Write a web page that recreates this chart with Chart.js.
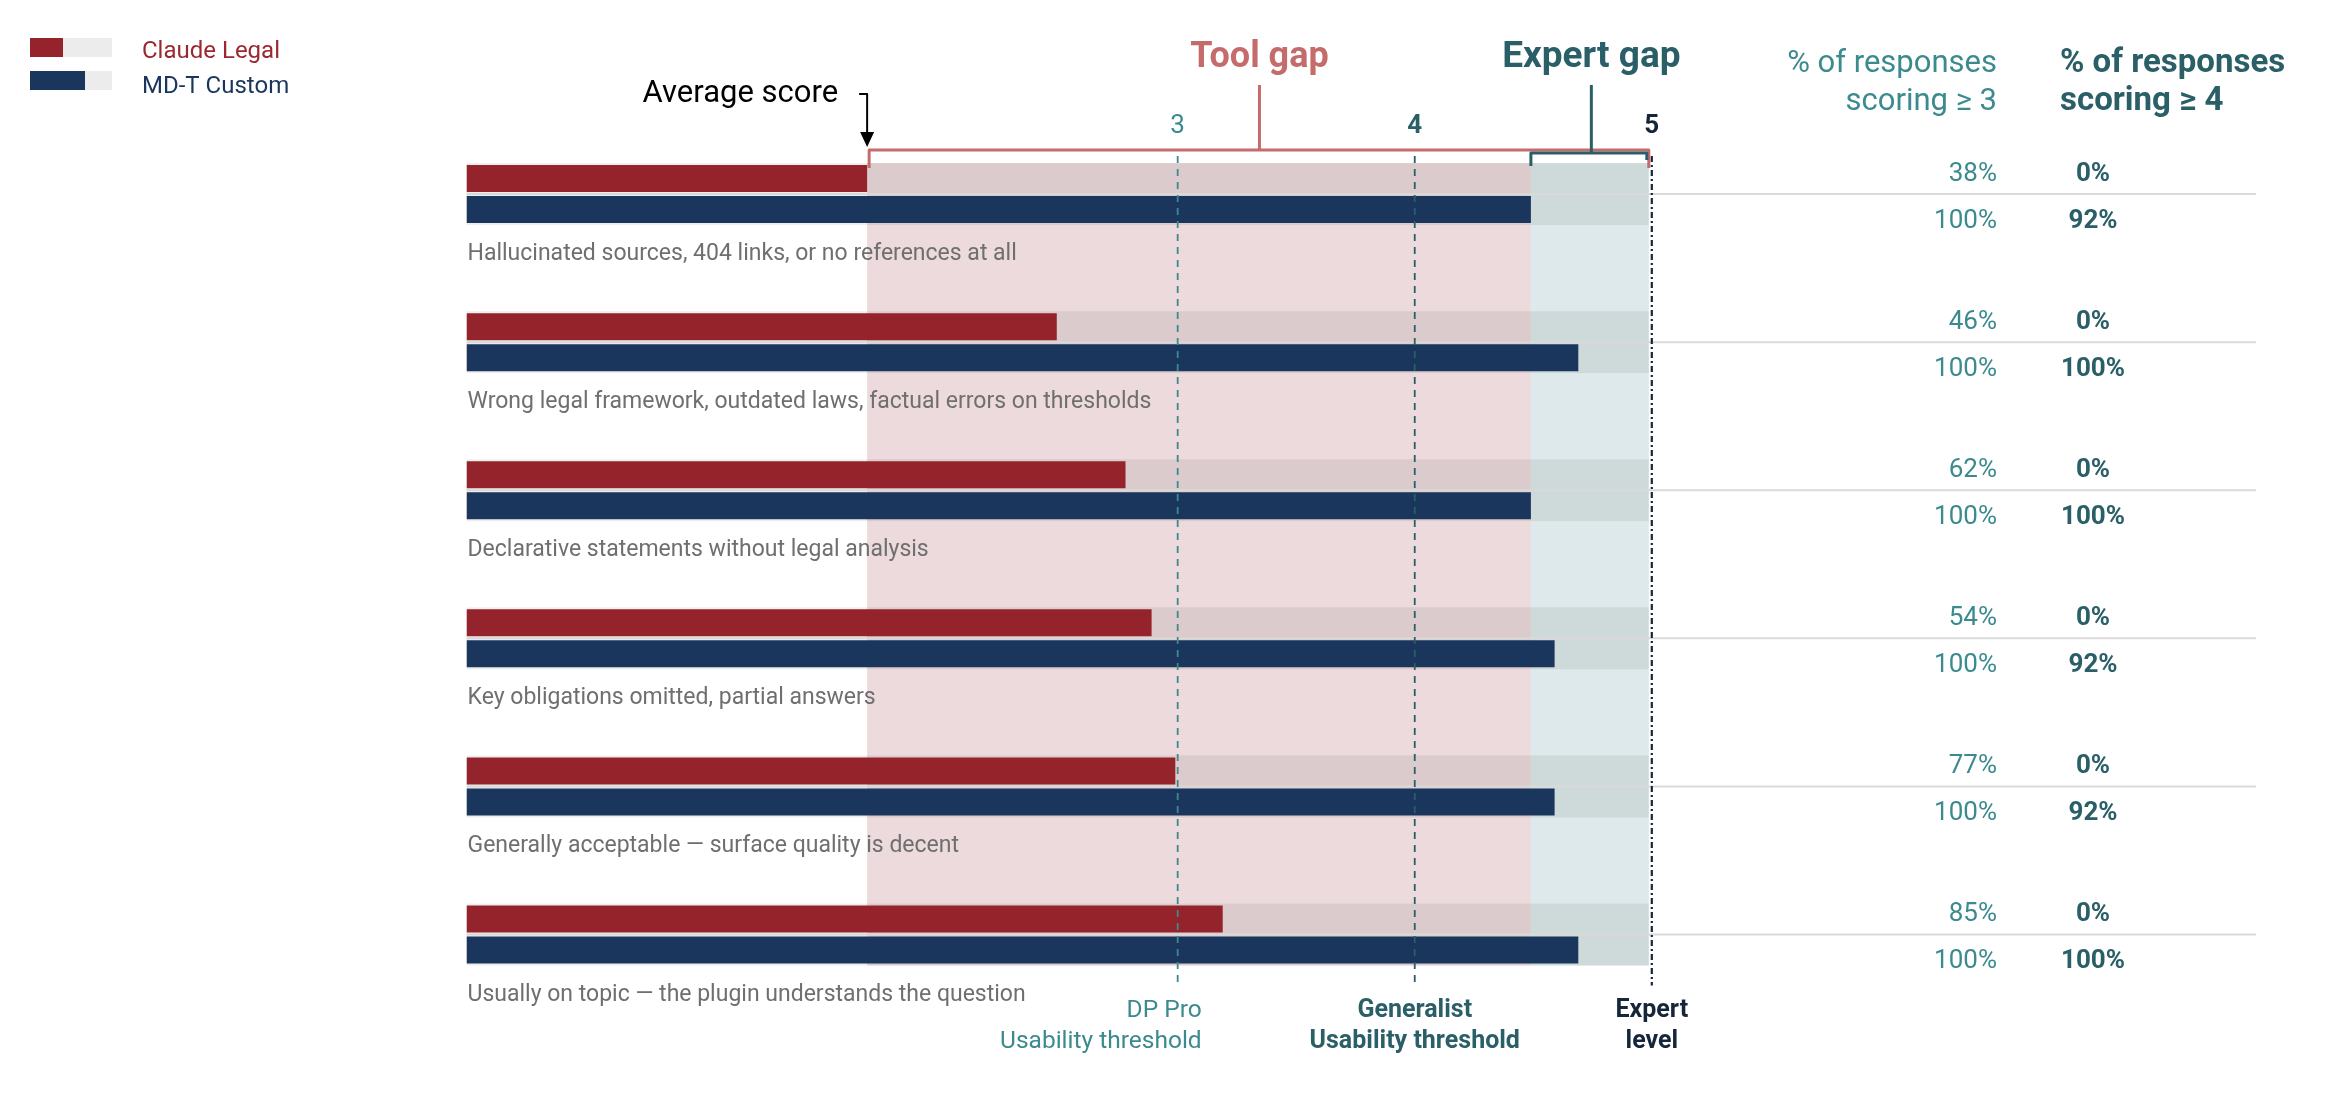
<!DOCTYPE html>
<html>
<head>
<meta charset="utf-8">
<title>Claude Legal vs MD-T Custom</title>
<script src="https://cdn.jsdelivr.net/npm/chart.js@4.4.1/dist/chart.umd.min.js"></script>
<style>
  html, body { margin: 0; padding: 0; background: #fff; }
  canvas { display: block; }
</style>
</head>
<body>
<canvas id="chart" width="2340" height="1096" style="width:2340px;height:1096px"></canvas>
<script>
/* ── Data ── */
const ROW_LABELS = [
  'Hallucinated sources, 404 links, or no references at all',
  'Wrong legal framework, outdated laws, factual errors on thresholds',
  'Declarative statements without legal analysis',
  'Key obligations omitted, partial answers',
  'Generally acceptable \u2014 surface quality is decent',
  'Usually on topic \u2014 the plugin understands the question'
];
const SERIES     = ['Claude Legal', 'MD-T Custom'];
const CLAUDE_AVG = [1.69, 2.49, 2.78, 2.89, 2.99, 3.19];
const MDT_AVG    = [4.49, 4.69, 4.49, 4.59, 4.59, 4.69];
const CLAUDE_GE3 = ['38%', '46%', '62%', '54%', '77%', '85%'];
const CLAUDE_GE4 = ['0%', '0%', '0%', '0%', '0%', '0%'];
const MDT_GE3    = ['100%', '100%', '100%', '100%', '100%', '100%'];
const MDT_GE4    = ['92%', '100%', '100%', '92%', '92%', '100%'];
const THRESHOLDS      = [3, 4, 5];
const THRESHOLD_NAMES = [['DP Pro', 'Usability threshold'], ['Generalist', 'Usability threshold'], ['Expert', 'level']];
const HEADER_GE3 = ['% of responses', 'scoring \u2265 3'];
const HEADER_GE4 = ['% of responses', 'scoring \u2265 4'];
const SCORE_MIN = 0, SCORE_MAX = 5;

/* ── Look ── */
const RED = '#95232b', NAVY = '#1a365d';
const TEAL = '#3b8a8e', DTEAL = '#2a5f67', INK = '#15263a', TOOL = '#c56b6b', GREY = '#6f6f6f';
const FONT = 'Roboto, "Liberation Sans", sans-serif';
const BAR_PCT = 27 / 31, CAT_PCT = 62 / 148.1;
const SEP_RIGHT = 2256, COL3_RIGHT = 1997, COL4_CENTER = 2093, COL4_LEFT = 2060;
const TH_STYLE = [
  { color: TEAL,  dash: [7, 6],       weight: '400', size: 24.5, align: 'right',  dx: 24 },
  { color: DTEAL, dash: [7, 6],       weight: '700', size: 25,   align: 'center', dx: 0 },
  { color: INK,   dash: [6, 3, 2, 3], weight: '700', size: 25,   align: 'center', dx: 0 }
];

function text(ctx, s, x, y, size, color, weight = '400', align = 'left', base = 'alphabetic') {
  ctx.font = `${weight} ${size}px ${FONT}`;
  ctx.fillStyle = color;
  ctx.textAlign = align;
  ctx.textBaseline = base;
  ctx.fillText(s, x, y);
}
function line(ctx, x1, y1, x2, y2) {
  ctx.beginPath(); ctx.moveTo(x1, y1); ctx.lineTo(x2, y2); ctx.stroke();
}

// geometry shared by both hooks, all read from the chart's own scales / bar elements
function geo(chart) {
  const x  = chart.scales.x;
  const m0 = chart.getDatasetMeta(0).data, m1 = chart.getDatasetMeta(1).data;
  const slot = m0[0].height / BAR_PCT;
  return {
    x, m0, m1, slot,
    top:    m0[0].y - slot / 2,
    bottom: m1[m1.length - 1].y + slot / 2,
    x0:     x.getPixelForValue(SCORE_MIN),
    x5:     x.getPixelForValue(SCORE_MAX),
    xTool:  x.getPixelForValue(Math.min(...CLAUDE_AVG)),
    xExp:   x.getPixelForValue(Math.min(...MDT_AVG))
  };
}

const backdrop = {
  id: 'backdrop',
  beforeDatasetsDraw(chart) {
    const { ctx } = chart;
    const g = geo(chart);
    ctx.save();
    // tool gap / expert gap bands
    ctx.fillStyle = '#ecdadc';
    ctx.fillRect(g.xTool, g.top, g.xExp - g.xTool, g.bottom - g.top);
    ctx.fillStyle = '#dde9ea';
    ctx.fillRect(g.xExp, g.top, g.x5 - 3 - g.xExp, g.bottom - g.top);
    // bar tracks 0 → 5
    ctx.fillStyle = 'rgba(0,0,0,0.065)';
    [...g.m0, ...g.m1].forEach(el => ctx.fillRect(g.x0, el.y - g.slot / 2, g.x5 - 3 - g.x0, g.slot));
    // row separators
    ctx.strokeStyle = '#d9d9d9';
    ctx.lineWidth = 2;
    g.m0.forEach((el, i) => {
      const y = (el.y + g.m1[i].y) / 2;
      line(ctx, g.x0, y, SEP_RIGHT, y);
    });
    ctx.restore();
  },
  afterDatasetsDraw(chart) {
    const { ctx } = chart;
    const g = geo(chart);
    ctx.save();

    // threshold lines + labels
    THRESHOLDS.forEach((v, i) => {
      const st = TH_STYLE[i];
      const px = g.x.getPixelForValue(v);
      ctx.strokeStyle = st.color;
      ctx.lineWidth = i === 2 ? 2.2 : 1.8;
      ctx.setLineDash(st.dash);
      line(ctx, px, g.top - 7, px, g.bottom + 20);
      ctx.setLineDash([]);
      text(ctx, String(v), px, 133, 26, st.color, i === 0 ? '400' : '700', 'center');
      const nx = px + st.dx;
      text(ctx, THRESHOLD_NAMES[i][0], nx, 1017, st.size, st.color, st.weight, st.align);
      text(ctx, THRESHOLD_NAMES[i][1], nx, 1048, st.size, st.color, st.weight, st.align);
    });

    // tool gap bracket
    ctx.lineWidth = 3;
    ctx.lineJoin = 'round';
    ctx.strokeStyle = TOOL;
    ctx.beginPath();
    ctx.moveTo(g.xTool + 2, 168); ctx.lineTo(g.xTool + 2, 150);
    ctx.lineTo(g.x5 - 3, 150); ctx.lineTo(g.x5 - 3, 168);
    ctx.stroke();
    const midTool = (g.xTool + g.x5) / 2;
    line(ctx, midTool, 85, midTool, 150);
    text(ctx, 'Tool gap', midTool, 67, 36, TOOL, '700', 'center');

    // expert gap bracket
    ctx.strokeStyle = DTEAL;
    ctx.beginPath();
    ctx.moveTo(g.xExp, 166); ctx.lineTo(g.xExp, 153);
    ctx.lineTo(g.x5 - 5, 153); ctx.lineTo(g.x5 - 5, 160);
    ctx.stroke();
    const midExp = (g.xExp + g.x5) / 2;
    line(ctx, midExp, 85, midExp, 153);
    text(ctx, 'Expert gap', midExp, 67, 37, DTEAL, '700', 'center');

    // average score pointer
    text(ctx, 'Average score', g.xTool - 29, 102, 31, '#000', '400', 'right');
    ctx.fillStyle = '#000';
    ctx.strokeStyle = '#000';
    ctx.lineWidth = 2;
    ctx.beginPath();
    ctx.moveTo(g.xTool - 8, 94); ctx.lineTo(g.xTool, 94); ctx.lineTo(g.xTool, 134);
    ctx.stroke();
    ctx.beginPath();
    ctx.moveTo(g.xTool - 7, 132); ctx.lineTo(g.xTool + 7, 132); ctx.lineTo(g.xTool, 147);
    ctx.closePath(); ctx.fill();

    // row labels and percentage columns
    g.m0.forEach((el, i) => {
      const sep = (el.y + g.m1[i].y) / 2;
      text(ctx, ROW_LABELS[i], g.x0 + 1, g.m1[i].y + 50.5, 23, GREY);
      text(ctx, CLAUDE_GE3[i], COL3_RIGHT, sep - 13.5, 26, TEAL, '400', 'right');
      text(ctx, MDT_GE3[i],    COL3_RIGHT, sep + 33.5, 26, TEAL, '400', 'right');
      text(ctx, CLAUDE_GE4[i], COL4_CENTER, sep - 13.5, 26, DTEAL, '700', 'center');
      text(ctx, MDT_GE4[i],    COL4_CENTER, sep + 33.5, 26, DTEAL, '700', 'center');
    });

    // column headers
    text(ctx, HEADER_GE3[0], COL3_RIGHT, 71.5, 31, TEAL, '400', 'right');
    text(ctx, HEADER_GE3[1], COL3_RIGHT, 110, 31, TEAL, '400', 'right');
    text(ctx, HEADER_GE4[0], COL4_LEFT, 71.5, 33, DTEAL, '700', 'left');
    text(ctx, HEADER_GE4[1], COL4_LEFT, 110, 33, DTEAL, '700', 'left');

    // legend
    ctx.fillStyle = '#ececec';
    ctx.fillRect(30, 38, 82, 19);
    ctx.fillRect(30, 71, 82, 19);
    ctx.fillStyle = RED;  ctx.fillRect(30, 38, 33, 19);
    ctx.fillStyle = NAVY; ctx.fillRect(30, 71, 55, 19);
    text(ctx, SERIES[0], 142, 58, 24, '#9a2830');
    text(ctx, SERIES[1], 142, 93, 24, NAVY);

    ctx.restore();
  }
};

new Chart(document.getElementById('chart'), {
  type: 'bar',
  data: {
    labels: ROW_LABELS,
    datasets: [
      { label: SERIES[0], data: CLAUDE_AVG, backgroundColor: RED },
      { label: SERIES[1], data: MDT_AVG,    backgroundColor: NAVY }
    ]
  },
  options: {
    indexAxis: 'y',
    responsive: false,
    animation: false,
    devicePixelRatio: 1,
    datasets: { bar: { barPercentage: BAR_PCT, categoryPercentage: CAT_PCT, borderWidth: 0 } },
    layout: { padding: { left: 466.5, right: 2340 - 1651.8, top: 120, bottom: 1096 - 1008.6 } },
    plugins: { legend: { display: false }, tooltip: { enabled: false } },
    scales: {
      x: { type: 'linear', min: SCORE_MIN, max: SCORE_MAX, display: false },
      y: { type: 'category', display: false }
    }
  },
  plugins: [backdrop]
});
</script>
</body>
</html>
